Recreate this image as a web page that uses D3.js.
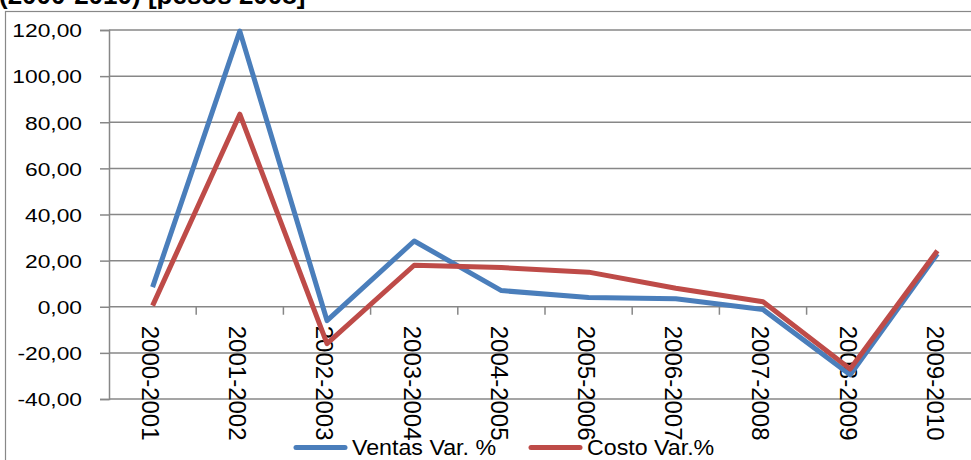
<!DOCTYPE html>
<html lang="es">
<head>
  <meta charset="UTF-8">
  <title>Ventas y Costo Var. %</title>
  <script src="https://d3js.org/d3.v7.min.js"></script>
</head>
<style>
  body { margin: 0; background: #fff; }
  svg { display: block; }
  text { font-family: "Liberation Sans", Arial, sans-serif; fill: #000; }
</style>
<body>
<div id="chart"></div>
<script>
  // data
  var periodos = ['2000-2001', '2001-2002', '2002-2003', '2003-2004', '2004-2005',
                  '2005-2006', '2006-2007', '2007-2008', '2008-2009', '2009-2010'];
  var ventas = [8.5, 119.5, -6, 28.5, 7, 4, 3.5, -1.2, -29.5, 23];
  var costo = [0.5, 83.5, -16, 18, 17, 15, 8, 2.2, -27, 24.3];
  var yTicks = [-40, -20, 0, 20, 40, 60, 80, 100, 120];

  var W = 971, H = 460;
  var plotLeft = 109, plotTop = 30, plotRight = 981, plotBottom = 399;

  var svg = d3.select('#chart').append('svg')
    .attr('width', W).attr('height', H);

  // cut-off title at the top
  svg.append('text')
    .attr('x', -1).attr('y', 4)
    .style('font-weight', 'bold').style('font-size', '26px')
    .text('(2000-2010) [pesos 2008]');

  // chart frame
  svg.append('rect')
    .attr('x', 5.5).attr('y', 11.5).attr('width', 1000).attr('height', 500)
    .attr('fill', 'none').attr('stroke', '#888').attr('stroke-width', 1.2);

  var x = d3.scaleBand().domain(periodos).range([plotLeft, plotRight]);
  var y = d3.scaleLinear().domain([-40, 120]).range([plotBottom, plotTop]);

  // gridlines
  svg.append('g').selectAll('line').data(yTicks).enter().append('line')
    .attr('x1', plotLeft).attr('x2', plotRight)
    .attr('y1', function(d) { return y(d); }).attr('y2', function(d) { return y(d); })
    .attr('stroke', '#878787').attr('stroke-width', 1.5);

  // y axis
  var yAxis = svg.append('g').attr('transform', 'translate(' + plotLeft + ',0)')
    .call(d3.axisLeft(y).tickValues(yTicks).tickSize(9).tickPadding(18)
      .tickFormat(function(d) { return d3.format('.2f')(d).replace('.', ',').replace('\u2212', '-'); }));
  yAxis.select('.domain').attr('stroke', '#878787').attr('stroke-width', 1.5);
  yAxis.selectAll('.tick line').attr('stroke', '#878787').attr('stroke-width', 1.5);
  yAxis.selectAll('text')
    .attr('x', 0).attr('dy', '0.36em')
    .attr('transform', 'translate(-27,0) scale(1.2,1)')
    .style('font-size', '19px');

  // x axis at zero
  var xAxis = svg.append('g').attr('transform', 'translate(0,' + y(0) + ')');
  var bounds = d3.range(1, periodos.length + 1).map(function(i) { return plotLeft + i * x.bandwidth(); });
  xAxis.selectAll('.bound').data(bounds).enter().append('line')
    .attr('x1', function(d) { return d; }).attr('x2', function(d) { return d; })
    .attr('y1', 0).attr('y2', 8)
    .attr('stroke', '#878787').attr('stroke-width', 1.5);
  xAxis.selectAll('.lbl').data(periodos).enter().append('text')
    .attr('transform', function(d) {
      return 'translate(' + (x(d) + x.bandwidth() / 2 - 2) + ',19) rotate(90)';
    })
    .attr('dy', '0.36em')
    .style('font-size', '24px')
    .text(function(d) { return d; });

  // lines
  var line = d3.line()
    .x(function(d, i) { return x(periodos[i]) + x.bandwidth() / 2; })
    .y(function(d) { return y(d); });

  var series = [
    { name: 'Ventas Var. %', values: ventas, color: '#4A7EBB' },
    { name: 'Costo Var.%', values: costo, color: '#BE4B48' }
  ];

  svg.append('g').selectAll('path').data(series).enter().append('path')
    .attr('d', function(s) { return line(s.values); })
    .attr('fill', 'none')
    .attr('stroke', function(s) { return s.color; })
    .attr('stroke-width', 5)
    .attr('stroke-linejoin', 'round');

  // legend
  var legendX = [296, 531];
  var leg = svg.append('g').selectAll('g').data(series).enter().append('g')
    .attr('transform', function(s, i) { return 'translate(' + legendX[i] + ',447.5)'; });
  leg.append('line')
    .attr('x1', 0).attr('x2', 49).attr('y1', 0).attr('y2', 0)
    .attr('stroke', function(s) { return s.color; })
    .attr('stroke-width', 5).attr('stroke-linecap', 'round');
  leg.append('text')
    .attr('transform', 'translate(56,7.5) scale(1.08,1)')
    .style('font-size', '21.5px')
    .text(function(s) { return s.name; });
</script>
</body>
</html>
